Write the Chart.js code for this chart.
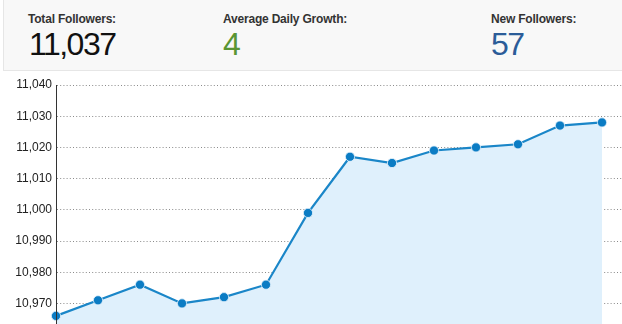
<!DOCTYPE html>
<html>
<head>
<meta charset="utf-8">
<script src="https://cdn.jsdelivr.net/npm/chart.js@4"></script>
<style>
  html, body { margin:0; padding:0; width:622px; height:324px; overflow:hidden; background:#fff; font-family:"Liberation Sans", Arial, sans-serif; }
  #wrap { position:absolute; left:0; top:0; width:644px; height:324px; }
  #panel { position:absolute; left:3px; top:0; width:640px; height:70px; background:#f8f8f8; border-left:1px solid #e6e6e6; border-bottom:1px solid #e6e6e6; z-index:2; }
  .lab { position:absolute; top:13px; font-size:12px; line-height:12px; font-weight:bold; color:#333; letter-spacing:-0.2px; }
  .num { position:absolute; top:28px; font-size:32px; line-height:32px; letter-spacing:-1.5px; }
</style>
</head>
<body>
<div id="panel">
  <div class="lab" style="left:24px">Total Followers:</div>
  <div class="num" style="left:25px;color:#111">11,037</div>
  <div class="lab" style="left:219px">Average Daily Growth:</div>
  <div class="num" style="left:219px;color:#5a9533">4</div>
  <div class="lab" style="left:487px">New Followers:</div>
  <div class="num" style="left:487px;color:#2b5c98">57</div>
</div>
<div id="wrap"><canvas id="c" width="644" height="324"></canvas></div>
<script>
const days = ['D1','D2','D3','D4','D5','D6','D7','D8','D9','D10','D11','D12','D13','D14','D15'];
const followers = [10966, 10971, 10976, 10970, 10972, 10976, 10999, 11017, 11015, 11019, 11020, 11021, 11027, 11028, null];
const yMin = 10963.4;
const yMax = 11040;
const yStep = 10;

new Chart(document.getElementById('c'), {
  type: 'line',
  data: {
    labels: days,
    datasets: [{
      data: followers,
      borderColor: '#1a86c8',
      borderWidth: 2.2,
      backgroundColor: '#dff0fc',
      fill: 'start',
      tension: 0,
      pointRadius: 4.6,
      pointBackgroundColor: '#0b7cc4',
      pointBorderColor: 'rgba(230,243,252,0.8)',
      pointBorderWidth: 1,
      spanGaps: false,
      clip: false
    }]
  },
  options: {
    responsive: false,
    animation: false,
    devicePixelRatio: 1,
    layout: { autoPadding: false, padding: { top: 85, left: 0, right: 0, bottom: 0 } },
    plugins: { legend: { display: false }, tooltip: { enabled: false } },
    scales: {
      x: { display: false, offset: false },
      y: {
        min: yMin, max: yMax,
        afterFit: (s) => { s.width = 56; s.paddingBottom = 0; s.paddingTop = 0; },
        afterBuildTicks: (s) => { s.ticks = s.ticks.filter(t => Math.abs(t.value % yStep) < 1e-6); },
        ticks: {
          stepSize: yStep,
          padding: 4,
          color: '#222',
          font: { family: '"Liberation Sans", Arial, sans-serif', size: 12 },
          callback: (v) => Number(v).toLocaleString('en-US')
        },
        grid: { color: '#8a8a8a', lineWidth: 1, drawTicks: false },
        border: { display: true, color: '#333', width: 1, dash: [1, 2.2] }
      }
    }
  },
  plugins: [{
    id: 'solidAxis',
    afterDraw(chart) {
      const y = chart.scales.y, ctx = chart.ctx;
      ctx.save();
      ctx.strokeStyle = '#333'; ctx.lineWidth = 1; ctx.setLineDash([]);
      ctx.beginPath(); ctx.moveTo(y.right + 0.5, chart.chartArea.top); ctx.lineTo(y.right + 0.5, chart.chartArea.bottom); ctx.stroke();
      ctx.restore();
    }
  }]
});
</script>
</body>
</html>
